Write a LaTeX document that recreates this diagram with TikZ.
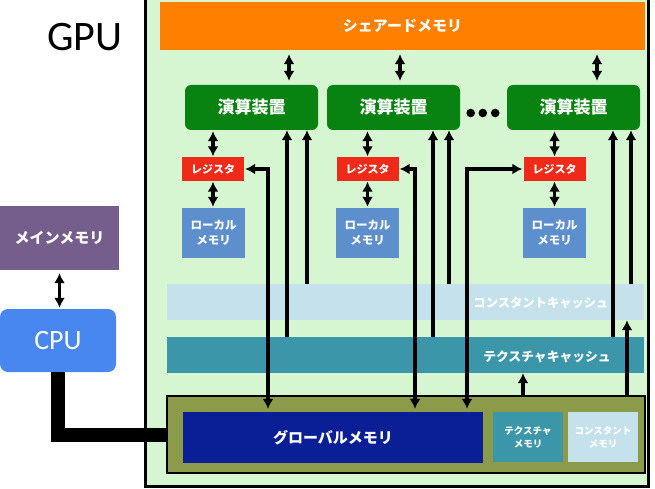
\documentclass[tikz,border=0pt]{standalone}
\usepackage{fontspec}
\setmainfont{Carlito}
\newfontfamily\jp{Noto Sans CJK JP}
\usetikzlibrary{arrows.meta}
\definecolor{gpuback}{RGB}{213,246,208}
\definecolor{sharedorange}{RGB}{255,127,0}
\definecolor{unitgreen}{RGB}{8,130,16}
\definecolor{regred}{RGB}{240,42,24}
\definecolor{localblue}{RGB}{92,143,203}
\definecolor{constblue}{RGB}{197,226,236}
\definecolor{texteal}{RGB}{60,150,170}
\definecolor{olive}{RGB}{140,155,74}
\definecolor{globalblue}{RGB}{10,30,150}
\definecolor{mainpurple}{RGB}{117,94,140}
\definecolor{cpublue}{RGB}{72,134,240}

\begin{document}
\begin{tikzpicture}[x=1pt,y=-1pt,
	blk/.style={inner sep=0pt,text=white,font=\jp\bfseries,align=center},
	unit/.style={blk,fill=unitgreen,rounded corners=6pt,minimum width=133pt,minimum height=45pt,font=\jp\bfseries\fontsize{17}{17}\selectfont},
	reg/.style={blk,fill=regred,minimum width=62pt,minimum height=23pt,font=\jp\bfseries\fontsize{11}{11}\selectfont},
	local/.style={blk,fill=localblue,minimum width=63pt,minimum height=50pt,font=\jp\bfseries\fontsize{11.5}{15}\selectfont},
	arr/.style={line width=3.2pt,-{Latex[length=10pt,width=11pt]}},
	dbl/.style={line width=3.2pt,{Latex[length=10pt,width=11pt]}-{Latex[length=10pt,width=11pt]}},
	]
	\useasboundingbox (0,0) rectangle (655,489);
	% GPU side
	\node[draw,line width=3pt,fill=gpuback,minimum width=503pt,minimum height=492pt,inner sep=0pt] (gpu) at (396.5,240) {};
	\node[font=\fontsize{42}{42}\selectfont] (gpulabel) at (85,37) {GPU};
	\node[blk,fill=sharedorange,minimum width=485pt,minimum height=48pt,font=\jp\bfseries\fontsize{15}{15}\selectfont] (shared) at (402.5,26) {シェアードメモリ};
	\node[unit] (unit1) at (251.5,107.5) {演算装置};
	\node[unit] (unit2) at (393.5,107.5) {演算装置};
	\node[unit] (unit3) at (573.5,107.5) {演算装置};
	\fill (470.7,113) circle (4.3pt) (482.8,113) circle (4.3pt) (495.2,113) circle (4.3pt);
	\node[reg] (reg1) at (213,169) {レジスタ};
	\node[reg] (reg2) at (367.5,169) {レジスタ};
	\node[reg] (reg3) at (554.5,169) {レジスタ};
	\node[local] (local1) at (213.5,233) {ローカル\\メモリ};
	\node[local] (local2) at (367.5,233) {ローカル\\メモリ};
	\node[local] (local3) at (554.5,233) {ローカル\\メモリ};
	\node[fill=constblue,minimum width=477pt,minimum height=36pt,inner sep=0pt] (ccache) at (405.5,302) {};
	\node[blk,font=\jp\bfseries\fontsize{12.3}{12}\selectfont] (ccachetext) at (541,303) {コンスタントキャッシュ};
	\node[fill=texteal,minimum width=477pt,minimum height=36pt,inner sep=0pt] (tcache) at (405.5,355) {};
	\node[blk,font=\jp\bfseries\fontsize{12.8}{12}\selectfont] (tcachetext) at (547,357) {テクスチャキャッシュ};
	\node[draw,line width=2pt,fill=olive,minimum width=478pt,minimum height=77pt,inner sep=0pt] (gframe) at (406,434.5) {};
	\node[blk,fill=globalblue,minimum width=300pt,minimum height=51pt,font=\jp\bfseries\fontsize{15}{15}\selectfont] (gmem) at (333,437.5) {グローバルメモリ};
	\node[blk,fill=texteal,minimum width=70pt,minimum height=50pt,font=\jp\bfseries\fontsize{9.5}{13}\selectfont] (tmem) at (528,437) {テクスチャ\\メモリ};
	\node[blk,fill=constblue,minimum width=70pt,minimum height=50pt,font=\jp\bfseries\fontsize{9.5}{13}\selectfont] (cmem) at (603,437) {コンスタント\\メモリ};
	% host side
	\node[blk,fill=mainpurple,minimum width=119pt,minimum height=64pt,font=\jp\bfseries\fontsize{15}{15}\selectfont] (mainmem) at (59.5,238) {メインメモリ};
	\node[blk,fill=cpublue,rounded corners=8pt,minimum width=116pt,minimum height=63pt,font=\fontsize{28}{28}\selectfont] (cpu) at (58,340.5) {CPU};
	% columns of the connectors
	\coordinate (s1) at (289,0);
	\coordinate (s2) at (400,0);
	\coordinate (s3) at (597,0);
	\coordinate (r1) at (268,0);
	\coordinate (t1) at (287,0);
	\coordinate (c1) at (307,0);
	\coordinate (r2) at (415,0);
	\coordinate (t2) at (433,0);
	\coordinate (c2) at (449,0);
	\coordinate (r3) at (467,0);
	\coordinate (t3) at (613,0);
	\coordinate (c3) at (631,0);
	\coordinate (g1) at (523,0);
	\coordinate (g2) at (627,0);
	% shared memory <-> units
	\draw[dbl,shorten <=4pt,shorten >=4pt] (shared.south -| s1) -- (unit1.north -| s1);
	\draw[dbl,shorten <=4pt,shorten >=4pt] (shared.south -| s2) -- (unit2.north -| s2);
	\draw[dbl,shorten <=4pt,shorten >=4pt] (shared.south -| s3) -- (unit3.north -| s3);
	% units <-> registers <-> local memory
	\draw[dbl,shorten <=1pt,shorten >=1pt] (unit1.south -| reg1) -- (reg1.north);
	\draw[dbl,shorten <=1pt,shorten >=1pt] (unit2.south -| reg2) -- (reg2.north);
	\draw[dbl,shorten <=1pt,shorten >=1pt] (unit3.south -| reg3) -- (reg3.north);
	\draw[dbl,shorten <=1pt,shorten >=1pt] (reg1.south) -- (reg1.south |- local1.north);
	\draw[dbl,shorten <=1pt,shorten >=1pt] (reg2.south) -- (reg2.south |- local2.north);
	\draw[dbl,shorten <=1pt,shorten >=1pt] (reg3.south) -- (reg3.south |- local3.north);
	% registers <-> global memory
	\draw[dbl,shorten <=1pt,shorten >=3pt] (reg1.east) -| (gmem.north -| r1);
	\draw[dbl,shorten <=1pt,shorten >=3pt] (reg2.east) -| (gmem.north -| r2);
	\draw[dbl,shorten <=1pt,shorten >=3pt] (reg3.west) -| (gmem.north -| r3);
	% caches -> units
	\draw[arr] (tcache.north -| t1) -- (unit1.south -| t1);
	\draw[arr] (ccache.north -| c1) -- (unit1.south -| c1);
	\draw[arr] (tcache.north -| t2) -- (unit2.south -| t2);
	\draw[arr] (ccache.north -| c2) -- (unit2.south -| c2);
	\draw[arr] (tcache.north -| t3) -- (unit3.south -| t3);
	\draw[arr] (ccache.north -| c3) -- (unit3.south -| c3);
	% global memory -> caches
	\draw[arr] (gframe.north -| g1) -- (tcache.south -| g1);
	\draw[arr] (gframe.north -| g2) -- (ccache.south -| g2);
	% host
	\draw[dbl,shorten <=3pt,shorten >=1pt] (mainmem.south) -- (mainmem.south |- cpu.north);
	\draw[line width=14pt] (cpu.south) |- (gframe.west);
\end{tikzpicture}
\end{document}
